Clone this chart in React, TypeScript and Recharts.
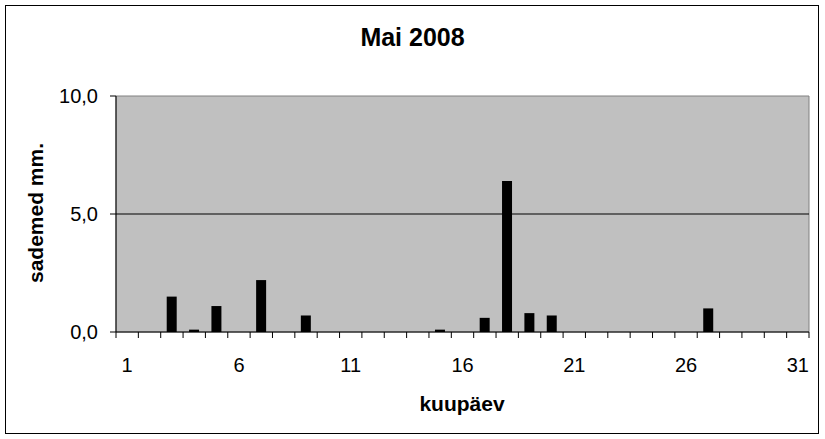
import React from 'react';
import { BarChart, Bar, XAxis, YAxis, CartesianGrid, ReferenceArea, ReferenceLine } from 'recharts';

// päevad 1..31, sademed mm
const days = [
    1, 2, 3, 4, 5, 6, 7, 8, 9, 10, 11, 12, 13, 14, 15, 16,
    17, 18, 19, 20, 21, 22, 23, 24, 25, 26, 27, 28, 29, 30, 31,
];
const rain = [
    0, 0, 1.5, 0.1, 1.1, 0, 2.2, 0, 0.7, 0, 0, 0, 0, 0, 0.1, 0,
    0.6, 6.4, 0.8, 0.7, 0, 0, 0, 0, 0, 0, 1.0, 0, 0, 0, 0,
];
const dayLabels = [1, 6, 11, 16, 21, 26, 31];
const dayBounds = [...days.map((d) => d - 0.5), 31.5];
const yTicks = [0, 5, 10];

const data = days.map((day, i) => ({ day, rain: rain[i] }));

const FONT = '"Liberation Sans", Arial, sans-serif';
const fmt = (v: number) => v.toFixed(1).replace('.', ',');

export default function App() {
    return (
        <div style={{ position: 'absolute', left: 0, top: 0, width: 825, height: 439, background: '#fff', fontFamily: FONT }}>
            {/* outer frame */}
            <div style={{ position: 'absolute', left: 5, top: 5, width: 812, height: 427, border: '1px solid #000' }} />

            <div style={{ position: 'absolute', left: 0, top: 22, width: 825, textAlign: 'center', fontSize: 25, fontWeight: 'bold', lineHeight: '30px' }}>
                Mai 2008
            </div>
            <div style={{ position: 'absolute', left: 362, top: 391, width: 200, textAlign: 'center', fontSize: 21, fontWeight: 'bold', lineHeight: '26px' }}>
                kuupäev
            </div>
            <div
                style={{
                    position: 'absolute', left: 36 - 100, top: 213 - 13, width: 200, textAlign: 'center',
                    fontSize: 21, fontWeight: 'bold', lineHeight: '26px', transform: 'rotate(-90deg)',
                }}
            >
                sademed mm.
            </div>

            <div style={{ position: 'absolute', left: 0, top: 0 }}>
                <BarChart width={825} height={439} data={data} margin={{ top: 96, right: 16, left: 56, bottom: 41 }}>
                    <CartesianGrid vertical={false} horizontal={false} fill="#C0C0C0" xAxisId="days" />
                    <ReferenceArea xAxisId="days" x1={0.5} x2={31.5} y1={0} y2={10} fill="#C0C0C0" fillOpacity={1} stroke="#808080" strokeWidth={1} />
                    <ReferenceLine xAxisId="days" y={5} stroke="#000" strokeWidth={1} />
                    <XAxis
                        xAxisId="bounds"
                        type="number"
                        dataKey="day"
                        domain={[0.5, 31.5]}
                        ticks={dayBounds}
                        interval={0}
                        tickFormatter={() => ''}
                        tickSize={6}
                        height={8}
                        stroke="#000"
                        tickLine={{ stroke: '#000' }}
                        axisLine={{ stroke: '#000' }}
                    />
                    <XAxis
                        xAxisId="days"
                        type="number"
                        dataKey="day"
                        domain={[0.5, 31.5]}
                        ticks={dayLabels}
                        interval={0}
                        tickLine={false}
                        axisLine={false}
                        tickSize={0}
                        tickMargin={18}
                        height={58}
                        tick={{ fill: '#000', fontSize: 20, fontFamily: FONT }}
                    />
                    <YAxis
                        domain={[0, 10]}
                        ticks={yTicks}
                        interval={0}
                        width={60}
                        tickFormatter={fmt}
                        tickSize={6}
                        tickMargin={12}
                        stroke="#000"
                        tick={{ fill: '#000', fontSize: 20, fontFamily: FONT }}
                    />
                    <Bar xAxisId="days" dataKey="rain" fill="#000" barSize={10} isAnimationActive={false} />
                </BarChart>
            </div>
        </div>
    );
}
